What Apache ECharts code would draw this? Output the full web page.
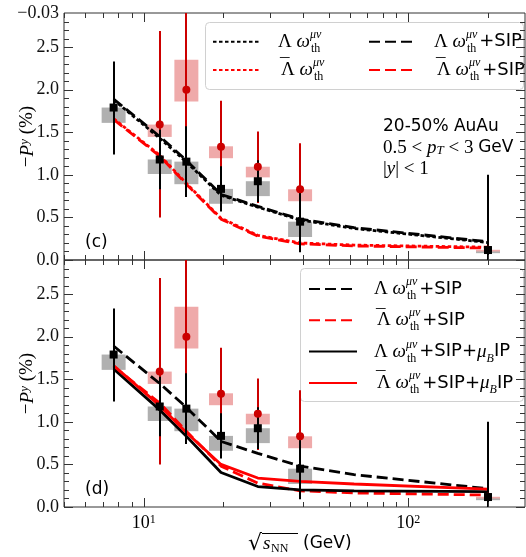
<!DOCTYPE html>
<html><head><meta charset="utf-8">
<script src="https://cdn.jsdelivr.net/npm/echarts@6/dist/echarts.min.js"></script>
<style>html,body{margin:0;padding:0;background:#fff}#c{width:526px;height:557px}</style>
</head><body><div id="c"></div>
<script>
// ---------------- data ----------------
const lamEnergy   = [7.7, 11.5, 14.5, 19.6, 27, 39, 200];
const lamP        = [1.79, 1.18, 1.155, 0.835, 0.925, 0.45, 0.117];
const lamStatLow  = [1.24, 0.83, 0.74, 0.57, 0.68, 0.09, -0.77];
const lamStatHigh = [2.33, 1.53, 1.57, 1.10, 1.17, 0.81, 1.00];
const lamSysLow   = [1.61, 1.01, 0.89, 0.66, 0.75, 0.27, 0.08];
const lamSysHigh  = [1.79, 1.18, 1.155, 0.835, 0.925, 0.45, 0.117];

const alamEnergy   = [11.5, 14.5, 19.6, 27, 39, 200];
const alamP        = [1.59, 2.0, 1.33, 1.095, 0.83, 0.12];
const alamStatLow  = [0.50, 0.80, 0.79, 0.67, 0.29, -0.10];
const alamStatHigh = [2.69, 3.20, 1.87, 1.51, 1.37, 0.34];
const alamSysLow   = [1.445, 1.86, 1.195, 0.97, 0.69, 0.10];
const alamSysHigh  = [1.59, 2.35, 1.335, 1.095, 0.83, 0.12];

const modelEnergy = [7.7, 11.5, 14.5, 19.6, 27, 39, 62.4, 200];
const lamThermal  = [1.88, 1.43, 1.15, 0.76, 0.62, 0.47, 0.37, 0.205];
const lamSIP      = [1.89, 1.45, 1.17, 0.77, 0.63, 0.48, 0.38, 0.215];
const alamThermal = [1.66, 1.23, 0.90, 0.49, 0.29, 0.20, 0.175, 0.15];
const alamSIP     = [1.65, 1.22, 0.89, 0.48, 0.28, 0.19, 0.165, 0.14];
const lamMuB      = [1.62, 1.14, 0.83, 0.405, 0.24, 0.20, 0.19, 0.18];
const alamMuB     = [1.66, 1.19, 0.875, 0.50, 0.34, 0.30, 0.27, 0.21];

const xMajorTicks = [10, 100];
const xMinorTicks = [5, 6, 7, 8, 9, 20, 30, 40, 50, 60, 70, 80, 90, 200];
const xTickLabels = ['{b|10}{e|1}', '{b|10}{e|2}'];
const yMajorTicks = [0, 0.5, 1.0, 1.5, 2.0, 2.5];
const yMinorTicks = [0.1,0.2,0.3,0.4,0.6,0.7,0.8,0.9,1.1,1.2,1.3,1.4,1.6,1.7,1.8,1.9,2.1,2.2,2.3,2.4,2.6,2.7,2.8];
const yTickLabels = ['0.0', '0.5', '1.0', '1.5', '2.0', '2.5'];
const topEdgeLabel = '\u22120.03';

// ---------------- helpers ----------------
const X_MIN = 5, X_MAX = 276, Y_MIN = 0, Y_MAX = 2.9;
const BOX_F = 1.11;
const SERIF = 'Liberation Serif', SANS = 'DejaVu Sans';
const RED = '#ff0000', DRED = '#cc0000';

function zip(a, b) { return a.map((v, i) => [v, b[i]]); }
function zip3(a, b, c) { return a.map((v, i) => [v, b[i], c[i]]); }

function tickSeries(g) {
  const xData = xMajorTicks.map(v => [v, 1, 1]).concat(xMinorTicks.map(v => [v, 1, 0]));
  const yData = yMajorTicks.map(v => [10, v, 1]).concat(yMinorTicks.map(v => [10, v, 0]));
  const st = { stroke: '#333', lineWidth: 1 };
  return [{
    type: 'custom', xAxisIndex: g, yAxisIndex: g, z: 6, silent: true,
    data: xData,
    renderItem: (params, api) => {
      const cs = params.coordSys;
      const x = Math.round(api.coord([api.value(0), 1])[0]) + 0.5;
      const len = api.value(2) ? 9 : 5;
      const yb = cs.y + cs.height, yt = cs.y;
      return { type: 'group', children: [
        { type: 'line', shape: { x1: x, y1: yb, x2: x, y2: yb - len }, style: st },
        { type: 'line', shape: { x1: x, y1: yt, x2: x, y2: yt + len }, style: st }
      ]};
    }
  }, {
    type: 'custom', xAxisIndex: g, yAxisIndex: g, z: 6, silent: true,
    data: yData,
    renderItem: (params, api) => {
      const cs = params.coordSys;
      const y = Math.round(api.coord([10, api.value(1)])[1]) + 0.5;
      const len = api.value(2) ? 9 : 5;
      const xl = cs.x, xr = cs.x + cs.width;
      return { type: 'group', children: [
        { type: 'line', shape: { x1: xl, y1: y, x2: xl + len, y2: y }, style: st },
        { type: 'line', shape: { x1: xr, y1: y, x2: xr - len, y2: y }, style: st }
      ]};
    }
  }];
}

function boxSeries(g, xs, lo, hi, color) {
  return {
    type: 'custom', xAxisIndex: g, yAxisIndex: g, z: 1, silent: true,
    data: zip3(xs, lo, hi),
    renderItem: (params, api) => {
      const x = api.value(0);
      const l = Math.max(api.value(1), Y_MIN), h = Math.min(api.value(2), Y_MAX);
      const p1 = api.coord([x / BOX_F, h]);
      const p2 = api.coord([x * BOX_F, l]);
      return { type: 'rect', shape: { x: p1[0], y: p1[1], width: p2[0] - p1[0], height: p2[1] - p1[1] },
               style: { fill: color } };
    }
  };
}

function errSeries(g, xs, lo, hi, color) {
  return {
    type: 'custom', xAxisIndex: g, yAxisIndex: g, z: 3, silent: true,
    data: zip3(xs, lo, hi),
    renderItem: (params, api) => {
      const x = api.value(0);
      const l = Math.max(api.value(1), Y_MIN), h = Math.min(api.value(2), Y_MAX);
      const a = api.coord([x, l]), b = api.coord([x, h]);
      const px = Math.round(a[0]);
      return { type: 'line', shape: { x1: px, y1: a[1], x2: px, y2: b[1] },
               style: { stroke: color, lineWidth: 2 } };
    }
  };
}

function curve(g, name, ys, color, type) {
  return {
    type: 'line', name: name, xAxisIndex: g, yAxisIndex: g, z: 2,
    data: zip(modelEnergy, ys), symbol: 'none', smooth: false, silent: true,
    lineStyle: { color: color, width: 2.8, type: type }, itemStyle: { color: color }
  };
}

function points(g, xs, ys, sym, color) {
  return {
    type: 'scatter', xAxisIndex: g, yAxisIndex: g, z: 4, silent: true,
    data: zip(xs, ys), symbol: sym, symbolSize: 8, itemStyle: { color: color, opacity: 1 }
  };
}

const DOT = [3.5, 2.5], DASH = [11, 5];

const legendRich = {
  gap: { fontFamily: SERIF, fontSize: 19, lineHeight: 26, width: 12 },
  mac: { fontFamily: SERIF, fontSize: 19, lineHeight: 19, verticalAlign: 'top', width: 1, color: '#000', padding: [0, 0, 0, 2] },
  m:   { fontFamily: SERIF, fontSize: 19, lineHeight: 26, color: '#000' },
  w:   { fontFamily: SERIF, fontStyle: 'italic', fontSize: 19, lineHeight: 26, color: '#000' },
  sup: { fontFamily: SERIF, fontStyle: 'italic', fontSize: 12, lineHeight: 15, verticalAlign: 'top', width: 1, color: '#000' },
  sub: { fontFamily: SERIF, fontSize: 12, lineHeight: 13, verticalAlign: 'bottom', color: '#000', padding: [0, 3, 0, 0] },
  sub2:{ fontFamily: SERIF, fontStyle: 'italic', fontSize: 12, lineHeight: 13, verticalAlign: 'bottom', color: '#000' },
  s:   { fontFamily: SANS, fontSize: 18, lineHeight: 26, color: '#000' }
};
function legendText(name) {
  const key = name.slice(2);
  const bar = key.indexOf('Lb') === 0;
  let s = '{gap| }' + (bar ? '{mac|\u00AF}' : '') + '{m|\u039B }{w|\u03C9}{sup|\u03BC\u03BD}{sub|th}';
  if (/sip$/.test(key)) s += '{s|+SIP}';
  if (/mu$/.test(key)) s += '{s|+SIP+}{w|\u03BC}{sub2|B}{s|IP}';
  return s;
}
function legendBox(data, left, top, gap) {
  return {
    data: data, orient: 'vertical', left: left, top: top, itemGap: gap, padding: 0,
    itemWidth: 48, itemHeight: 14, selectedMode: false, z: 5,
    itemStyle: { color: 'rgba(0,0,0,0)', borderColor: 'rgba(0,0,0,0)', borderWidth: 0, opacity: 0 },
    formatter: legendText, textStyle: { rich: legendRich }
  };
}

function yLabelFormatter(top) {
  return v => {
    if (Math.abs(v - Y_MAX) < 1e-6) return top ? topEdgeLabel : '';
    const i = yMajorTicks.findIndex(t => Math.abs(t - v) < 1e-6);
    return i >= 0 ? yTickLabels[i] : '';
  };
}
function xLabelFormatter(v) {
  const i = xMajorTicks.findIndex(t => Math.abs(t - v) / t < 1e-6);
  return i >= 0 ? xTickLabels[i] : '';
}

const gridBase = { left: 64, right: 1, height: 247, show: true, borderColor: '#333', borderWidth: 1,
                   backgroundColor: 'transparent', containLabel: false, outerBoundsMode: 'none' };
const yName = '{n|\u2212}{i|P}{sup|y}{n| (%)}';
const yNameStyle = { rich: {
  n: { fontFamily: SERIF, fontSize: 19, color: '#000' },
  i: { fontFamily: SERIF, fontStyle: 'italic', fontSize: 19, color: '#000' },
  sup: { fontFamily: SERIF, fontStyle: 'italic', fontSize: 13, verticalAlign: 'top', lineHeight: 14, color: '#000' }
}};

function xAxisCfg(g) {
  return {
    type: 'log', logBase: 10, gridIndex: g, min: X_MIN, max: X_MAX,
    axisLine: { show: false }, axisTick: { show: false }, splitLine: { show: false }, minorTick: { show: false },
    axisLabel: { show: true, formatter: g === 1 ? xLabelFormatter : () => '', margin: 7,
      rich: { b: { fontFamily: SERIF, fontSize: 18, color: '#000' },
              e: { fontFamily: SERIF, fontSize: 12, verticalAlign: 'top', lineHeight: 12, color: '#000' } } }
  };
}
function yAxisCfg(g, top) {
  return {
    type: 'value', gridIndex: g, min: Y_MIN, max: Y_MAX, interval: 0.5,
    axisLine: { show: false }, axisTick: { show: false }, splitLine: { show: false },
    axisLabel: { formatter: yLabelFormatter(top), margin: 5, fontFamily: SERIF, fontSize: 18, color: '#111' },
    name: yName, nameLocation: 'middle', nameRotate: 90, nameGap: 27, nameMoveOverlap: false,
    nameTextStyle: yNameStyle
  };
}

const series = [];
[0, 1].forEach(g => {
  series.push(...tickSeries(g));
  series.push(boxSeries(g, lamEnergy, lamSysLow, lamSysHigh, '#b0b0b0'));
  series.push(boxSeries(g, alamEnergy, alamSysLow, alamSysHigh, '#efaaaa'));
  series.push(errSeries(g, alamEnergy, alamStatLow, alamStatHigh, DRED));
  series.push(errSeries(g, lamEnergy, lamStatLow, lamStatHigh, '#000'));
  series.push(points(g, alamEnergy, alamP, 'circle', DRED));
  series.push(points(g, lamEnergy, lamP, 'rect', '#000'));
});
series.push(curve(0, 'c_Lth', lamThermal, '#000', DOT));
series.push(curve(0, 'c_Lbth', alamThermal, RED, DOT));
series.push(curve(0, 'c_Lsip', lamSIP, '#000', DASH));
series.push(curve(0, 'c_Lbsip', alamSIP, RED, DASH));
series.push(curve(1, 'd_Lsip', lamSIP, '#000', DASH));
series.push(curve(1, 'd_Lbsip', alamSIP, RED, DASH));
series.push(curve(1, 'd_Lmu', lamMuB, '#000', 'solid'));
series.push(curve(1, 'd_Lbmu', alamMuB, RED, 'solid'));

const mathRich = {
  m: { fontFamily: SERIF, fontSize: 19, color: '#000' },
  i: { fontFamily: SERIF, fontStyle: 'italic', fontSize: 19, color: '#000' },
  sub: { fontFamily: SERIF, fontStyle: 'italic', fontSize: 13, verticalAlign: 'bottom', lineHeight: 12, color: '#000' },
  s: { fontFamily: SANS, fontSize: 17, color: '#000' }
};

const option = {
  animation: false,
  backgroundColor: '#fff',
  grid: [Object.assign({ top: 13 }, gridBase), Object.assign({ top: 260 }, gridBase)],
  xAxis: [xAxisCfg(0), xAxisCfg(1)],
  yAxis: [yAxisCfg(0, true), yAxisCfg(1, false)],
  legend: [
    legendBox(['c_Lth', 'c_Lbth'], 212, 28.7, 2.3),
    legendBox(['c_Lsip', 'c_Lbsip'], 368, 28.7, 2.3),
    legendBox(['d_Lsip', 'd_Lbsip', 'd_Lmu', 'd_Lbmu'], 308, 276, 5.3)
  ],
  graphic: [
    { type: 'rect', z: 3, shape: { x: 205.5, y: 22.5, width: 318, height: 67, r: 4 },
      style: { fill: 'rgba(255,255,255,0.85)', stroke: '#d0d0d0', lineWidth: 1 } },
    { type: 'rect', z: 3, shape: { x: 300.5, y: 268.5, width: 223, height: 133, r: 4 },
      style: { fill: 'rgba(255,255,255,0.85)', stroke: '#d0d0d0', lineWidth: 1 } },
    { type: 'text', z: 7, x: 85, y: 243, style: { text: '(c)', font: '17px "DejaVu Sans"', fill: '#000', verticalAlign: 'middle' } },
    { type: 'text', z: 7, x: 85, y: 490, style: { text: '(d)', font: '17px "DejaVu Sans"', fill: '#000', verticalAlign: 'middle' } },
    { type: 'text', z: 7, x: 383, y: 127, style: { text: '20-50% AuAu', font: '17px "DejaVu Sans"', fill: '#000', verticalAlign: 'middle' } },
    { type: 'text', z: 7, x: 383, y: 148, style: { text: '{m|0.5 < }{i|p}{sub|T}{m| < 3 }{s|GeV}', rich: mathRich, verticalAlign: 'middle' } },
    { type: 'text', z: 7, x: 383, y: 169, style: { text: '{m||}{i|y}{m|| < 1}', rich: mathRich, verticalAlign: 'middle' } },
    { type: 'text', z: 7, x: 248, y: 544, style: { text: '\u221A', font: '22px "DejaVu Sans"', fill: '#000', verticalAlign: 'middle' } },
    { type: 'line', z: 7, shape: { x1: 262, y1: 533.5, x2: 298, y2: 533.5 }, style: { stroke: '#000', lineWidth: 1 } },
    { type: 'text', z: 7, x: 263, y: 544, style: { text: 's', font: 'italic 19px "Liberation Serif"', fill: '#000', verticalAlign: 'middle' } },
    { type: 'text', z: 7, x: 271, y: 549, style: { text: 'NN', font: '12px "Liberation Serif"', fill: '#000', verticalAlign: 'middle' } },
    { type: 'text', z: 7, x: 303, y: 544, style: { text: '(GeV)', font: '17px "DejaVu Sans"', fill: '#000', verticalAlign: 'middle' } }
  ],
  series: series
};

const chart = echarts.init(document.getElementById('c'), null, { renderer: 'canvas' });
chart.setOption(option);
</script>
</body></html>
